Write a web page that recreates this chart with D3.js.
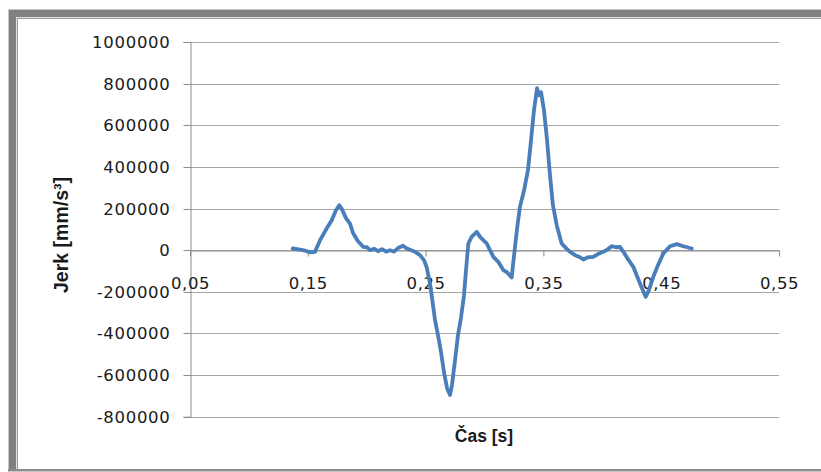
<!DOCTYPE html>
<html>
<head>
<meta charset="utf-8">
<script src="https://cdn.jsdelivr.net/npm/d3@7"></script>
<style>
  body { margin: 0; background: #fff; }
  svg { display: block; }
</style>
</head>
<body>
<div id="chart"></div>
<script>
// time [s] and jerk [mm/s^3]
var time_values = [
  0.1372, 0.1434, 0.1476, 0.1525, 0.1561, 0.1604, 0.1660, 0.1703, 0.1739, 0.1767,
  0.1790, 0.1824, 0.1858, 0.1884, 0.1926, 0.1971, 0.2003, 0.2028, 0.2062, 0.2096,
  0.2130, 0.2164, 0.2198, 0.2232, 0.2266, 0.2308, 0.2334, 0.2368, 0.2410, 0.2452,
  0.2486, 0.2509, 0.2537, 0.2557, 0.2580, 0.2605, 0.2631, 0.2656, 0.2682, 0.2707,
  0.2724, 0.2750, 0.2775, 0.2800, 0.2826, 0.2843, 0.2863, 0.2891, 0.2934, 0.2962,
  0.3019, 0.3047, 0.3075, 0.3117, 0.3160, 0.3191, 0.3231, 0.3242, 0.3259, 0.3280,
  0.3301, 0.3336, 0.3369, 0.3395, 0.3420, 0.3446, 0.3463, 0.3480, 0.3505, 0.3531,
  0.3556, 0.3581, 0.3613, 0.3655, 0.3692, 0.3726, 0.3768, 0.3811, 0.3839, 0.3879,
  0.3924, 0.3963, 0.4009, 0.4048, 0.4080, 0.4116, 0.4150, 0.4179, 0.4218, 0.4263,
  0.4320, 0.4368, 0.4396, 0.4433, 0.4473, 0.4518, 0.4575, 0.4632, 0.4688, 0.4759
];
var jerk_values = [
  8000, 2400, -2400, -11000, -8200, 48000, 104000, 144000, 192000, 216000,
  197000, 154000, 128000, 82000, 43000, 16000, 14000, 0, 7000, -5000,
  5000, -7000, 0, -7000, 10000, 21000, 10000, 2000, -8000, -24000,
  -48000, -82000, -160000, -240000, -336000, -408000, -490000, -586000, -663000, -696000,
  -648000, -528000, -408000, -326000, -216000, -96000, 32000, 64000, 88000, 64000,
  32000, 0, -32000, -56000, -96000, -106000, -131000, -72000, 16000, 120000,
  208000, 288000, 384000, 528000, 672000, 778000, 744000, 759000, 672000, 528000,
  360000, 216000, 120000, 32000, 10000, -8000, -24000, -34000, -45000, -34000,
  -32000, -19000, -8000, 5000, 19000, 14000, 16000, -8000, -43000, -80000,
  -160000, -224000, -192000, -128000, -72000, -16000, 19000, 29000, 19000, 8000
];

// axis ticks
var x_ticks = [0.05, 0.15, 0.25, 0.35, 0.45, 0.55];
var y_ticks = [-800000, -600000, -400000, -200000, 0, 200000, 400000, 600000, 800000, 1000000];

var x_title = 'Čas [s]';
var y_title = 'Jerk [mm/s³]';

var data = time_values.map(function(t, i) {
    return {t: t, v: jerk_values[i]};
});

// chart params
var width  = 821;
var height = 472;
var plot_left   = 190;
var plot_right  = 779;
var plot_top    = 42;
var plot_bottom = 416.7;

var line_color = '#4a7ebb';
var grid_color = '#a6a6a6';
var axis_color = '#8c8c8c';
var tick_font  = '"DejaVu Sans", sans-serif';
var title_font = '"Liberation Sans", Arial, sans-serif';

var svg = d3.select('#chart')
    .append('svg')
    .attr('width', width)
    .attr('height', height);

svg.append('rect')
    .attr('width', width)
    .attr('height', height)
    .attr('fill', '#fff');

// outer frame (the picture is cut off on the right)
var frame = svg.append('g');
frame.append('rect').attr('x', 8).attr('y', 9).attr('width', width).attr('height', 463).attr('fill', '#c8c8c8');
frame.append('rect').attr('x', 9).attr('y', 10).attr('width', width).attr('height', 461).attr('fill', '#808080');
frame.append('rect').attr('x', 16).attr('y', 17).attr('width', width).attr('height', 453).attr('fill', '#e0e0e0');
frame.append('rect').attr('x', 17).attr('y', 18).attr('width', width).attr('height', 451).attr('fill', '#9a9a9a');
frame.append('rect').attr('x', 18).attr('y', 19).attr('width', width).attr('height', 450).attr('fill', '#fff');
frame.append('rect').attr('x', 8).attr('y', 469).attr('width', width).attr('height', 2).attr('fill', '#8c8c8c');

// scales
var x_scale = d3.scaleLinear()
    .domain([0.05, 0.55])
    .range([plot_left, plot_right]);

var y_scale = d3.scaleLinear()
    .domain([-800000, 1000000])
    .range([plot_bottom, plot_top]);

// horizontal gridlines
svg.append('g')
    .selectAll('line')
    .data(y_ticks)
    .enter()
    .append('line')
    .attr('x1', plot_left)
    .attr('x2', plot_right)
    .attr('y1', function(d) { return Math.round(y_scale(d)) + 0.5; })
    .attr('y2', function(d) { return Math.round(y_scale(d)) + 0.5; })
    .attr('stroke', grid_color)
    .attr('stroke-width', 1);

// y axis, ticks to the outside
var y_axis = d3.axisLeft(y_scale)
    .tickValues(y_ticks)
    .tickSize(7)
    .tickPadding(13)
    .tickFormat(function(d) { return String(d); });

var y_axis_g = svg.append('g')
    .attr('transform', 'translate(' + (plot_left + 0.5) + ',0)')
    .call(y_axis);

y_axis_g.selectAll('.tick').attr('transform', function(d) {
    return 'translate(0,' + (Math.round(y_scale(d)) + 0.5) + ')';
});
y_axis_g.selectAll('line').attr('stroke', axis_color);
y_axis_g.select('.domain').attr('stroke', axis_color);
y_axis_g.selectAll('text')
    .attr('fill', '#1a1a1a')
    .attr('dy', '0.36em')
    .style('font-family', tick_font)
    .style('font-size', '16.5px')
    .style('letter-spacing', '0.7px');

// x axis sits on the zero line, ticks hang below it
var x_axis = d3.axisBottom(x_scale)
    .tickValues(x_ticks)
    .tickSize(6)
    .tickPadding(21)
    .tickSizeOuter(0)
    .tickFormat(function(d) { return d3.format('.2f')(d).replace('.', ','); });

var zero_y = Math.round(y_scale(0)) + 0.5;
var x_axis_g = svg.append('g')
    .attr('transform', 'translate(0,' + zero_y + ')')
    .call(x_axis);

x_axis_g.select('.domain').attr('stroke', axis_color);
x_axis_g.selectAll('line').attr('stroke', axis_color);
x_axis_g.selectAll('text')
    .attr('fill', '#1a1a1a')
    .style('font-family', tick_font)
    .style('font-size', '16.5px')
    .style('letter-spacing', '0.6px');

// the series line
var line = d3.line()
    .x(function(d) { return x_scale(d.t); })
    .y(function(d) { return y_scale(d.v); })
    .curve(d3.curveLinear);

svg.append('path')
    .datum(data)
    .attr('d', line)
    .attr('fill', 'none')
    .attr('stroke', line_color)
    .attr('stroke-width', 3.8)
    .attr('stroke-linejoin', 'round')
    .attr('stroke-linecap', 'round');

// axis titles
svg.append('text')
    .attr('x', 484)
    .attr('y', 442)
    .attr('text-anchor', 'middle')
    .style('font-family', title_font)
    .style('font-weight', 'bold')
    .style('font-size', '17.5px')
    .attr('fill', '#1a1a1a')
    .text(x_title);

svg.append('text')
    .attr('transform', 'translate(68,235) rotate(-90)')
    .attr('text-anchor', 'middle')
    .style('font-family', title_font)
    .style('font-weight', 'bold')
    .style('font-size', '19.5px')
    .attr('fill', '#1a1a1a')
    .text(y_title);
</script>
</body>
</html>
